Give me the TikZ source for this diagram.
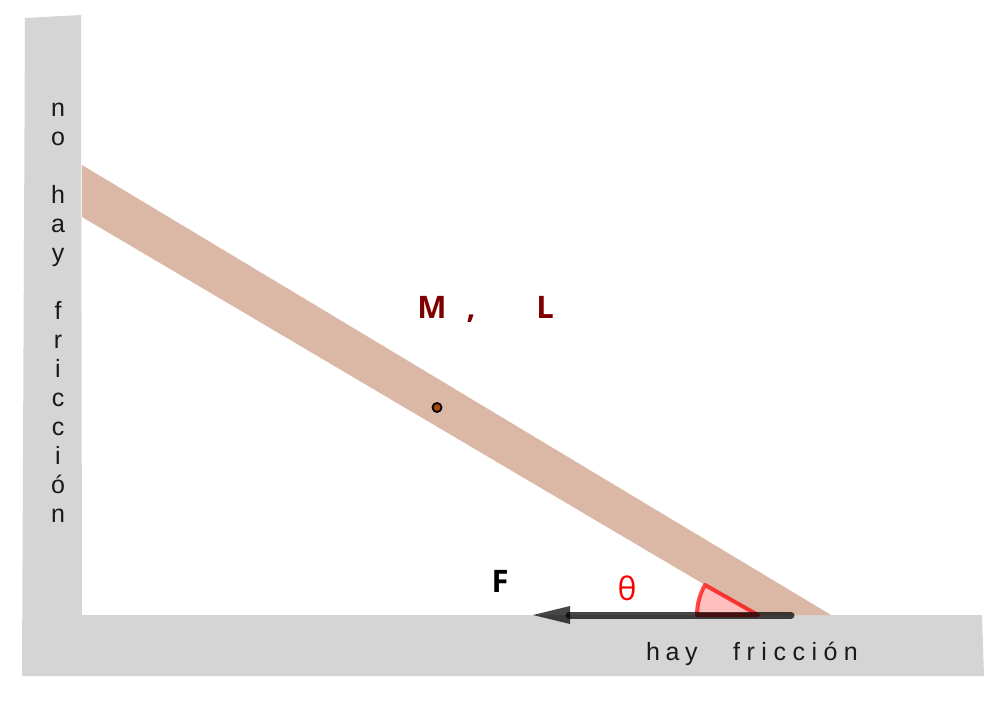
\documentclass[tikz,border=0pt]{standalone}
\usepackage{fontspec}
\setmainfont{Liberation Sans}
\newfontfamily\labelfont{Open Sans}
\newfontfamily\wallfont{Liberation Sans}
\newfontfamily\hayfont[LetterSpace=22]{Liberation Sans}
\newfontfamily\fricfont[LetterSpace=26]{Liberation Sans}
\definecolor{wallgray}{HTML}{D5D5D5}
\definecolor{beamtan}{HTML}{DBB8A5}
\definecolor{maroon}{HTML}{7F0000}
\definecolor{dotbrown}{HTML}{A8480F}
\tikzset{
  wall/.style={fill=wallgray,draw=none},
  beam/.style={fill=beamtan,draw=none},
  bodylabel/.style={font=\labelfont\bfseries\fontsize{31}{33}\selectfont,text=maroon,anchor=base,inner sep=0pt},
  forcelabel/.style={font=\labelfont\bfseries\fontsize{31}{33}\selectfont,text=black,anchor=base,inner sep=0pt},
  anglelabel/.style={font=\labelfont\fontsize{32}{34}\selectfont,text=red,anchor=base,inner sep=0pt},
  walltext/.style={font=\wallfont\fontsize{25}{29}\selectfont,text=black!90,align=center,inner sep=0pt},
  floortext/.style={text=black!90,anchor=base west,inner sep=0pt},
  centre/.style={circle,fill=dotbrown,draw=black,line width=1.8pt,minimum size=9pt,inner sep=0pt},
  force/.style={draw=black,draw opacity=.72,line width=7pt,line cap=round},
  forcehead/.style={fill=black,fill opacity=.72,draw=none},
  anglemark/.style={draw=red,draw opacity=.7,fill=red,fill opacity=.25,line width=4pt,line join=round}
}
\begin{document}
\begin{tikzpicture}[x=1pt,y=-1pt]
\useasboundingbox (0,0) rectangle (1000,704);
\fill[white] (0,0) rectangle (1000,704);
% supports
\path[wall] (25,18) -- (81,15) -- (82,615) -- (982,615) -- (984,676) -- (22,676) -- cycle;
% beam
\path[beam] (82,165) -- (831,615) -- (756,615) -- (82,217) -- cycle;
% angle
\coordinate (vertex) at (758,615);
\path[anglemark] (vertex) -- (697,615) arc[start angle=180,end angle=209.5,radius=61] -- cycle;
% force
\coordinate (tail) at (791,615);
\coordinate (shaft) at (569,615);
\coordinate (tip) at (533,615);
\draw[force] (tail) -- (shaft);
\path[forcehead] (tip) -- (570,606) -- (570,624) -- cycle;
% centre of mass
\node[centre] (cm) at (437,407.5) {};
% labels
\node[bodylabel] (m) at (432,318) {M};
\node[bodylabel] (comma) at (471,318) {,};
\node[bodylabel] (l) at (545,318) {L};
\node[forcelabel] (f) at (500,592) {F};
\node[anglelabel] (theta) at (627,600) {θ};
\node[floortext,font=\hayfont\fontsize{25}{29}\selectfont] (hay) at (646,660) {hay};
\node[floortext,font=\fricfont\fontsize{25}{29}\selectfont] (fric) at (733,660) {fricción};
\node[walltext,anchor=north] (notext) at (58,103) {n\\o\\[29pt]h\\a\\y\\[29pt]f\\r\\i\\c\\c\\i\\ó\\n};
\end{tikzpicture}
\end{document}
